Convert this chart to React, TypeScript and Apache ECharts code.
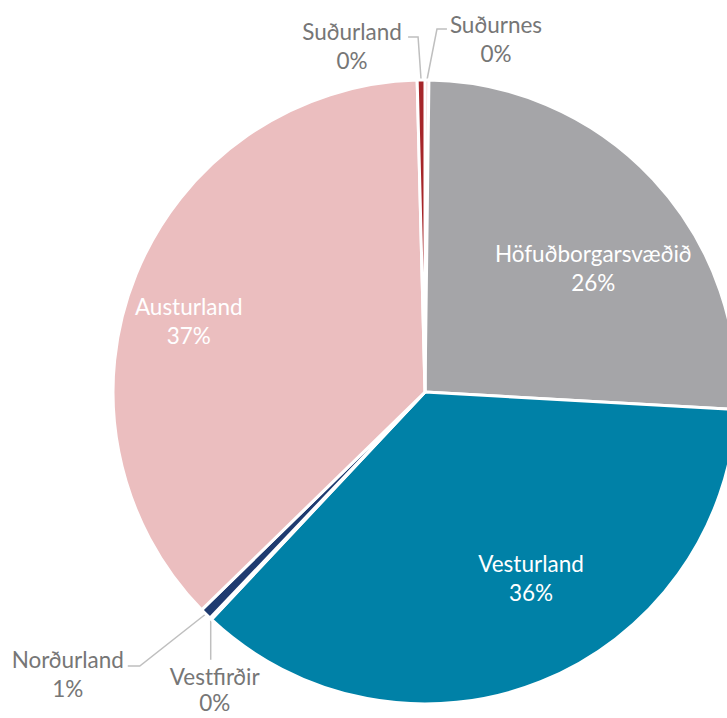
import React, { useEffect, useRef } from "react";
import * as echarts from "echarts";

const regions = [
  "Suðurnes",
  "Höfuðborgarsvæðið",
  "Vesturland",
  "Vestfirðir",
  "Norðurland",
  "Austurland",
  "Suðurland",
];
const shares = [0.2, 25.7, 36.1, 0.1, 0.6, 36.9, 0.4];
const colors = ["#E99C9C", "#A5A5A8", "#0081A7", "#7FA9D6", "#1F3B70", "#EBBEBF", "#A6262A"];
const insideNames = ["Höfuðborgarsvæðið", "Vesturland", "Austurland"];

const FONT = "Lato, Carlito, Calibri, 'Noto Sans', sans-serif";

export default function App() {
  const ref = useRef<HTMLDivElement>(null);
  useEffect(() => {
    if (!ref.current) return;
    const chart = echarts.init(ref.current, undefined, { renderer: "svg" });

    // offsets of inside labels from the default inside anchor
    const insideShift: Record<string, [number, number]> = {
      "Höfuðborgarsvæðið": [52, -16],
      Vesturland: [47, 38],
      Austurland: [-89, -11],
    };

    const data = regions.map((name, i) => {
      const inside = insideNames.includes(name);
      const label: any = inside
        ? { position: "inside", color: "#FFFFFF" }
        : { position: "outside", color: "#767676" };
      if (name === "Vestfirðir") label.lineHeight = 26;
      return {
        name,
        value: shares[i],
        itemStyle: { color: colors[i] },
        label,
        labelLine: { show: !inside },
      };
    });

    chart.setOption({
      animation: false,
      backgroundColor: "#FFFFFF",
      series: [
        {
          type: "pie",
          center: [425, 392],
          radius: 312,
          startAngle: 90,
          clockwise: true,
          avoidLabelOverlap: false,
          minShowLabelAngle: 0,
          itemStyle: { borderColor: "#FFFFFF", borderWidth: 3 },
          label: {
            show: true,
            fontFamily: FONT,
            fontSize: 22.5,
            lineHeight: 29,
            align: "center",
            formatter: (p: any) => `${p.name}\n${Math.round(p.percent)}%`,
          },
          labelLine: {
            show: true,
            length: 40,
            length2: 10,
            lineStyle: { color: "#BFBFBF", width: 1.5 },
          },
          labelLayout: (p: any) => {
            const name = regions[p.dataIndex];
            if (insideShift[name]) {
              const [dx, dy] = insideShift[name];
              return { dx, dy };
            }
            const pts = p.labelLinePoints;
            if (!pts) return {};
            const [ex, ey] = pts[0];
            if (name === "Suðurland") {
              return {
                x: ex - 69,
                y: ey - 63,
                align: "center",
                verticalAlign: "top",
                labelLinePoints: [
                  [ex, ey],
                  [ex - 3, ey - 43],
                  [ex - 13, ey - 43],
                ],
              };
            }
            if (name === "Suðurnes") {
              return {
                x: ex + 69,
                y: ey - 70,
                align: "center",
                verticalAlign: "top",
                labelLinePoints: [
                  [ex, ey],
                  [ex + 10, ey - 51],
                  [ex + 20, ey - 51],
                ],
              };
            }
            if (name === "Vestfirðir") {
              return {
                x: ex + 4,
                y: ey + 45,
                align: "center",
                verticalAlign: "top",
                labelLinePoints: [
                  [ex, ey],
                  [ex, ey + 22],
                  [ex, ey + 41],
                ],
              };
            }
            if (name === "Norðurland") {
              return {
                x: ex - 138,
                y: ey + 31,
                align: "center",
                verticalAlign: "top",
                labelLinePoints: [
                  [ex, ey],
                  [ex - 66, ey + 52],
                  [ex - 78, ey + 52],
                ],
              };
            }
            return {};
          },
          data,
        },
      ],
    });
    return () => chart.dispose();
  }, []);
  return (
    <div
      ref={ref}
      style={{ position: "absolute", left: 0, top: 0, width: 727, height: 718 }}
    />
  );
}
